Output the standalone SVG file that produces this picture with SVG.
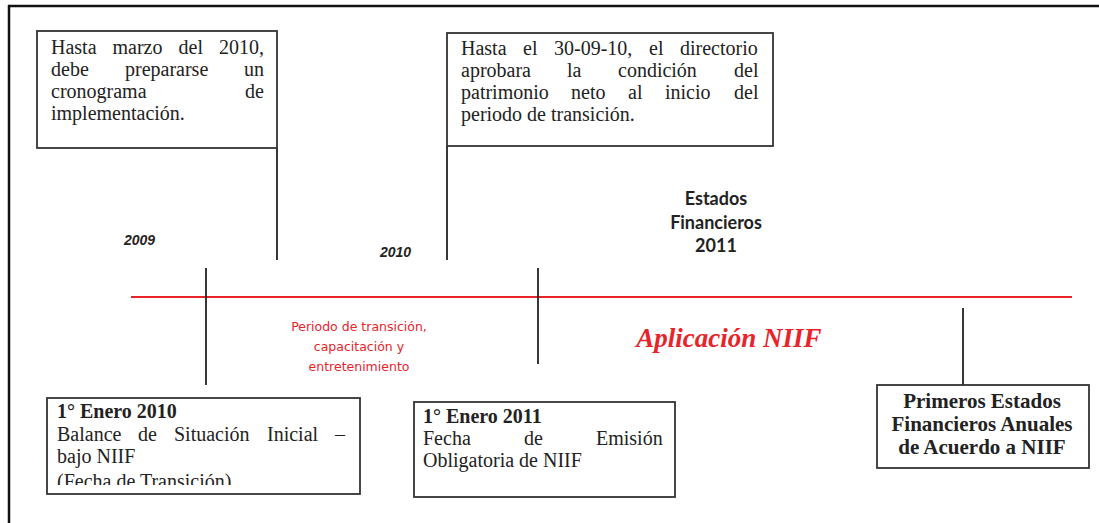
<svg xmlns="http://www.w3.org/2000/svg" width="1099" height="523" viewBox="0 0 1099 523">
<defs>
<style>
.box{fill:#fff;stroke:#333;stroke-width:1.8}
.ln{stroke:#222;stroke-width:1.8;fill:none}
.t{font-family:"Liberation Serif","Times New Roman",serif;font-size:20px;fill:#222}
.tb{font-family:"Liberation Serif","Times New Roman",serif;font-size:20px;font-weight:bold;fill:#222}
.tb5{font-family:"Liberation Serif","Times New Roman",serif;font-size:21px;font-weight:bold;fill:#222;text-anchor:middle}
.yr{font-family:"Liberation Sans",Arial,sans-serif;font-size:14px;font-weight:bold;font-style:italic;fill:#222}
.ef{font-family:Lato,"Liberation Sans",sans-serif;font-size:18px;font-weight:bold;fill:#222;text-anchor:middle}
.rd{font-family:"DejaVu Sans",Verdana,sans-serif;font-size:12.5px;fill:#e8242a;text-anchor:middle}
.ap{font-family:"Liberation Serif","Times New Roman",serif;font-size:27px;font-weight:bold;font-style:italic;fill:#e8242a;text-anchor:middle}
</style>
<clipPath id="c3"><rect x="47" y="397" width="313" height="88"/></clipPath>
</defs>
<rect width="1099" height="523" fill="#fff"/>
<g id="frame">
<line x1="8" y1="6" x2="1099" y2="6" stroke="#111" stroke-width="2.5"/>
<line x1="9" y1="5" x2="9" y2="523" stroke="#111" stroke-width="2.5"/>
</g>
<g id="connectors">
<line class="ln" x1="277" y1="148" x2="277" y2="260"/>
<line class="ln" x1="447" y1="146" x2="447" y2="260"/>
<line x1="131" y1="297" x2="1072" y2="297" stroke="#e8242a" stroke-width="1.8"/>
<line class="ln" x1="206" y1="268" x2="206" y2="385"/>
<line class="ln" x1="538" y1="268" x2="538" y2="364"/>
<line class="ln" x1="963" y1="308" x2="963" y2="385"/>
</g>
<g id="box1">
<rect class="box" x="37" y="31" width="240" height="117"/>
<text class="t" y="54"><tspan x="51">Hasta</tspan><tspan x="112.5">marzo</tspan><tspan x="178.5">del</tspan><tspan x="219">2010,</tspan></text>
<text class="t" y="76"><tspan x="51">debe</tspan><tspan x="125">prepararse</tspan><tspan x="244">un</tspan></text>
<text class="t" y="98"><tspan x="51">cronograma</tspan><tspan x="245">de</tspan></text>
<text class="t" x="51" y="120">implementación.</text>
</g>
<g id="box2">
<rect class="box" x="447" y="33" width="326" height="113"/>
<text class="t" y="55"><tspan x="461">Hasta</tspan><tspan x="523">el</tspan><tspan x="554">30-09-10,</tspan><tspan x="649">el</tspan><tspan x="680">directorio</tspan></text>
<text class="t" y="77"><tspan x="461">aprobara</tspan><tspan x="567">la</tspan><tspan x="618">condición</tspan><tspan x="734">del</tspan></text>
<text class="t" y="99"><tspan x="461">patrimonio</tspan><tspan x="571">neto</tspan><tspan x="628">al</tspan><tspan x="665">inicio</tspan><tspan x="734">del</tspan></text>
<text class="t" x="461" y="121">periodo de transición.</text>
</g>
<g id="labels">
<text class="yr" x="124" y="245">2009</text>
<text class="yr" x="380" y="257">2010</text>
<text class="ef" x="716" y="205">Estados</text>
<text class="ef" x="716" y="229">Financieros</text>
<text class="ef" x="716" y="252">2011</text>
<text class="rd" x="359" y="331">Periodo de transición,</text>
<text class="rd" x="359" y="351">capacitación  y</text>
<text class="rd" x="359" y="371">entretenimiento</text>
<text class="ap" x="729" y="347">Aplicación  NIIF</text>
</g>
<g id="box3">
<rect class="box" x="47" y="398" width="313" height="96"/>
<text class="tb" x="57" y="418">1° Enero 2010</text>
<text class="t" y="441"><tspan x="57">Balance</tspan><tspan x="138">de</tspan><tspan x="174">Situación</tspan><tspan x="267">Inicial</tspan><tspan x="335">–</tspan></text>
<text class="t" x="57" y="463">bajo NIIF</text>
<text class="t" x="57" y="488" clip-path="url(#c3)">(Fecha de Transición)</text>
</g>
<g id="box4">
<rect class="box" x="414" y="402" width="261" height="95"/>
<text class="tb" x="423" y="423">1° Enero 2011</text>
<text class="t" y="445"><tspan x="423">Fecha</tspan><tspan x="524">de</tspan><tspan x="596">Emisión</tspan></text>
<text class="t" x="423" y="467">Obligatoria de NIIF</text>
</g>
<g id="box5">
<rect class="box" x="877" y="385" width="212" height="83"/>
<text class="tb5" x="982" y="408">Primeros Estados</text>
<text class="tb5" x="982" y="431">Financieros Anuales</text>
<text class="tb5" x="982" y="454">de Acuerdo a NIIF</text>
</g>
</svg>
